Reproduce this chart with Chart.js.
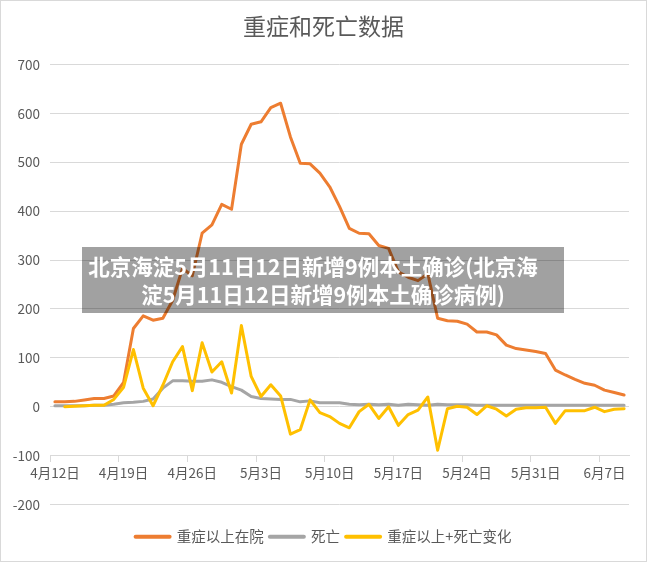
<!DOCTYPE html>
<html>
<head>
<meta charset="utf-8">
<script src="https://cdn.jsdelivr.net/npm/chart.js@4"></script>
<style>
  body { margin: 0; background: #fff; }
  #wrap { position: relative; width: 647px; height: 562px; }
  #banner {
    position: absolute; left: 82px; top: 247px; width: 482px; height: 66px;
    box-sizing: border-box; padding-top: 5px;
    background: rgba(0, 0, 0, 0.37); color: #fff;
    font-family: "Noto Sans CJK SC"; font-weight: bold; font-size: 21.5px; line-height: 28px;
    text-align: center; white-space: nowrap;
  }
</style>
</head>
<body>
<div id="wrap">
  <canvas id="covidChart" width="647" height="562"></canvas>
  <div id="banner"><div style="padding-right:20px">北京海淀5月11日12日新增9例本土确诊(北京海</div><div>淀5月11日12日新增9例本土确诊病例)</div></div>
</div>
<script>
// Categories: one per day
const dates = [
  "4月12日", "4月13日", "4月14日", "4月15日", "4月16日", "4月17日", "4月18日", "4月19日",
  "4月20日", "4月21日", "4月22日", "4月23日", "4月24日", "4月25日", "4月26日", "4月27日",
  "4月28日", "4月29日", "4月30日", "5月1日", "5月2日", "5月3日", "5月4日", "5月5日",
  "5月6日", "5月7日", "5月8日", "5月9日", "5月10日", "5月11日", "5月12日", "5月13日",
  "5月14日", "5月15日", "5月16日", "5月17日", "5月18日", "5月19日", "5月20日", "5月21日",
  "5月22日", "5月23日", "5月24日", "5月25日", "5月26日", "5月27日", "5月28日", "5月29日",
  "5月30日", "5月31日", "6月1日", "6月2日", "6月3日", "6月4日", "6月5日", "6月6日",
  "6月7日", "6月8日", "6月9日"
];

// 重症以上在院
const severe = [
  10, 10, 11, 14, 17, 17, 22, 50, 160, 186, 177, 181, 218, 283, 268, 355,
  372, 414, 404, 537, 578, 583, 612, 621, 552, 498, 497, 478, 450, 410, 365, 355,
  354, 330, 324, 276, 265, 258, 272, 181, 176, 175, 169, 153, 153, 147, 126, 119,
  116, 113, 109, 75, 65, 56, 48, 44, 34, 29, 24
];

// 死亡
const deaths = [
  2, 2, 2, 2, 3, 3, 5, 8, 9, 11, 16, 38, 53, 53, 52, 52,
  55, 50, 41, 34, 21, 17, 16, 15, 15, 10, 12, 8, 8, 8, 5, 4,
  5, 4, 5, 3, 5, 4, 3, 5, 4, 4, 4, 3, 3, 3, 3, 3,
  3, 3, 3, 3, 3, 3, 3, 3, 3, 3, 3
];

// 重症以上+死亡变化
const change = [
  null, 0, 1, 2, 3, 3, 15, 40, 117, 38, 2, 44, 92, 123, 33, 131,
  71, 92, 28, 166, 62, 21, 45, 22, -56, -47, 14, -12, -20, -34, -43, -10,
  5, -24, 0, -38, -16, -7, 20, -89, -4, 1, -1, -16, 2, -5, -19, -5,
  -2, -2, -1, -34, -8, -8, -8, -1, -10, -5, -4
];

const yMin = -200;
const yMax = 700;
const labelEvery = 7;

const FONT = '"Noto Sans CJK SC", "Noto Sans", sans-serif';
const TEXT = "#595959";
const GRID = "#d9d9d9";

// white background + thin outer frame like an Excel chart
const frame = {
  id: "frame",
  beforeDraw(chart) {
    const c = chart.ctx;
    c.save();
    c.fillStyle = "#fff";
    c.fillRect(0, 0, chart.width, chart.height);
    c.strokeStyle = GRID;
    c.lineWidth = 1;
    c.strokeRect(0.5, 0.5, chart.width - 1, chart.height - 1);
    c.restore();
  }
};

const ctx = document.getElementById("covidChart").getContext("2d");

new Chart(ctx, {
  type: "line",
  data: {
    labels: dates,
    datasets: [
      {
        label: "重症以上在院",
        data: severe,
        borderColor: "#ED7D31",
        backgroundColor: "#ED7D31",
        order: 2
      },
      {
        label: "死亡",
        data: deaths,
        borderColor: "#A5A5A5",
        backgroundColor: "#A5A5A5",
        order: 1
      },
      {
        label: "重症以上+死亡变化",
        data: change,
        borderColor: "#FFC000",
        backgroundColor: "#FFC000",
        order: 0
      }
    ]
  },
  options: {
    responsive: false,
    animation: false,
    devicePixelRatio: 1,
    layout: { padding: { left: 0, right: 0, top: 0, bottom: 8 } },
    elements: {
      line: { borderWidth: 3, tension: 0, borderJoinStyle: "round", borderCapStyle: "round", fill: false },
      point: { radius: 0, hoverRadius: 0 }
    },
    plugins: {
      title: {
        display: true,
        text: "重症和死亡数据",
        color: TEXT,
        font: { family: FONT, size: 23, weight: "normal" },
        padding: { top: 12, bottom: 25 }
      },
      legend: {
        position: "bottom",
        title: { display: true, text: "", font: { size: 10 }, padding: { top: 7, bottom: 0 } },
        labels: {
          color: TEXT,
          font: { family: FONT, size: 14.5 },
          padding: 6,
          usePointStyle: true,
          pointStyleWidth: 34,
          sort: (a, b) => a.datasetIndex - b.datasetIndex,
          generateLabels(chart) {
            const items = Chart.defaults.plugins.legend.labels.generateLabels(chart);
            items.forEach(it => {
              it.pointStyle = "line";
              it.lineWidth = 4;
              it.lineCap = "round";
              it.strokeStyle = chart.data.datasets[it.datasetIndex].borderColor;
            });
            return items;
          }
        }
      },
      tooltip: { enabled: false }
    },
    scales: {
      x: {
        position: { y: -100 },
        offset: true,
        grid: {
          offset: true,
          drawOnChartArea: false,
          drawTicks: true,
          tickLength: 6,
          color: c => (c.index % labelEvery === 0 ? GRID : "rgba(0,0,0,0)")
        },
        border: { display: true, color: GRID, width: 1 },
        ticks: {
          autoSkip: false,
          maxRotation: 0,
          padding: 3,
          color: TEXT,
          font: { family: FONT, size: 13.5 },
          callback: (v, i) => (i % labelEvery === 0 ? dates[i] : "")
        }
      },
      y: {
        min: yMin,
        max: yMax,
        afterFit: s => { s.width = 50; },
        grid: { color: GRID, drawTicks: false },
        border: { display: false },
        ticks: {
          stepSize: 100,
          padding: 10,
          color: TEXT,
          font: { family: FONT, size: 13.5 }
        }
      },
      // empty right-hand margin so the title and legend stay centred on the page
      margin: {
        position: "right",
        afterFit: s => { s.width = 18; },
        grid: { display: false },
        border: { display: false },
        ticks: { display: false }
      }
    }
  },
  plugins: [frame]
});
</script>
</body>
</html>
